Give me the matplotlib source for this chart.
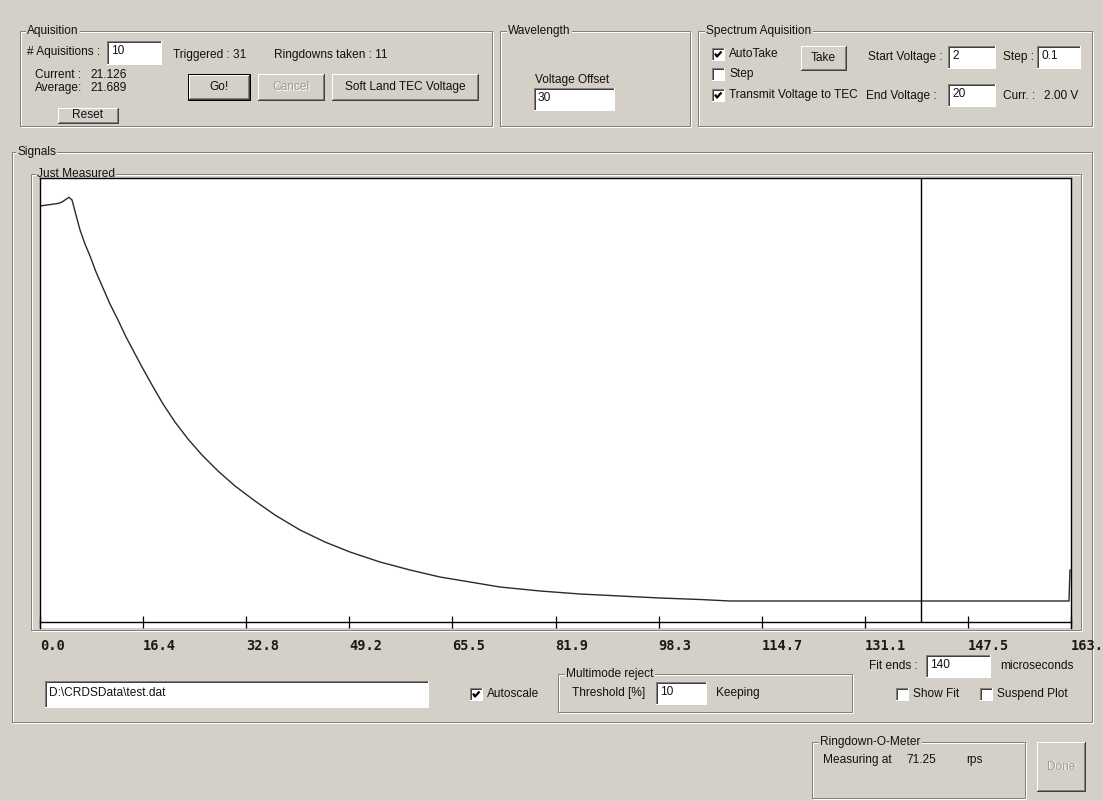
import matplotlib
matplotlib.use("Agg")
import matplotlib.pyplot as plt
from matplotlib.patches import Rectangle

W, H = 1103, 801

# Ringdown trace on the "Just Measured" display: time [µs] and detector signal [a.u.]
time_us = [0.00, 1.11, 2.22, 2.86, 3.50, 3.97, 4.61, 5.09, 5.72, 6.36, 7.15,
           7.95, 8.90, 10.01, 11.12, 12.40, 13.67, 14.94, 16.21, 17.80, 19.55,
           21.45, 23.52, 25.74, 28.29, 30.99, 34.17, 37.34, 41.32, 45.29, 49.26,
           54.03, 58.80, 63.56, 68.33, 73.10, 79.46, 85.81, 92.17, 98.52, 104.88,
           109.65, 163.52, 163.68]
signal = [416.0, 417.0, 418.0, 418.5, 420.0, 422.0, 424.7, 422.0, 407.0, 392.0, 378.0,
          366.0, 350.0, 334.0, 318.0, 302.0, 285.0, 270.0, 255.0, 237.0, 218.0,
          200.0, 183.0, 167.0, 151.0, 136.0, 121.0, 107.0, 92.0, 80.0, 70.0,
          60.0, 52.0, 45.0, 40.0, 35.0, 31.0, 28.0, 26.0, 24.0, 22.5,
          21.0, 21.0, 52.0]

# Time axis: 4096 samples over 163.84 µs, labelled every tenth
tick_values = [0.0, 16.384, 32.768, 49.152, 65.536, 81.92, 98.304,
               114.688, 131.072, 147.456, 163.84]
tick_labels = [f"{v:.1f}" for v in tick_values]
t_max = 163.84
signal_range = (-6.0, 444.0)

# Acquisition / instrument state shown in the panel
n_acquisitions = 10
triggered = 31
ringdowns_taken = 11
current_value = "21.126"
average_value = "21.689"
voltage_offset = 30
start_voltage = 2
end_voltage = 20
voltage_step = 0.1
curr_voltage = 2.00
data_file = r"D:\CRDSData\test.dat"
threshold_pct = 10
fit_end_us = 140
ringdown_rate = 71.25

BG = "#D4D0C8"
SHADOW = "#808080"
DARK = "#404040"
WHITE = "#FFFFFF"
PX = 0.72  # one pixel in points at 100 dpi

plt.rcParams["font.family"] = ["Liberation Sans", "DejaVu Sans"]
plt.rcParams["font.size"] = 8.6

fig = plt.figure(figsize=(W / 100, H / 100), dpi=100, facecolor=BG)
ui = fig.add_axes([0, 0, 1, 1])
ui.set_xlim(0, W)
ui.set_ylim(H, 0)
ui.axis("off")
ui.set_facecolor(BG)


def seg(x0, y0, x1, y1, color, lw=1.0):
    ui.plot([x0, x1], [y0, y1], color=color, lw=lw * PX,
            solid_capstyle="butt", antialiased=False, zorder=3)


def label(x, y, s, color="#111111", ha="left", **kw):
    ui.text(x, y, s, ha=ha, va="center", color=color, zorder=5, **kw)


def group(x0, y0, x1, y1, title, tx):
    ui.add_patch(Rectangle((x0 + 1, y0 + 1), x1 - x0, y1 - y0, fill=False,
                           ec=WHITE, lw=PX, zorder=2))
    ui.add_patch(Rectangle((x0, y0), x1 - x0, y1 - y0, fill=False,
                           ec=SHADOW, lw=PX, zorder=2))
    ui.text(tx, y0, title, ha="left", va="center", zorder=4, color="#111111",
            bbox=dict(fc=BG, ec="none", pad=1.0))


def edit(x0, y0, x1, y1, s):
    ui.add_patch(Rectangle((x0, y0), x1 - x0, y1 - y0, fc=WHITE, ec="none", zorder=3))
    seg(x0, y0, x1, y0, SHADOW)
    seg(x0, y0, x0, y1, SHADOW)
    seg(x0 + 1, y0 + 1, x1 - 1, y0 + 1, DARK)
    seg(x0 + 1, y0 + 1, x0 + 1, y1 - 1, DARK)
    seg(x0, y1, x1, y1, WHITE)
    seg(x1, y0, x1, y1, WHITE)
    label(x0 + 4, (y0 + y1) / 2 - 1, s)


def button(x0, y0, x1, y1, s, default=False, disabled=False):
    ui.add_patch(Rectangle((x0, y0), x1 - x0, y1 - y0, fc=BG, ec="none", zorder=3))
    if default:
        ui.add_patch(Rectangle((x0, y0), x1 - x0, y1 - y0, fill=False,
                               ec="black", lw=PX, zorder=4))
        x0, y0, x1, y1 = x0 + 1, y0 + 1, x1 - 1, y1 - 1
    seg(x0, y0, x1, y0, WHITE)
    seg(x0, y0, x0, y1, WHITE)
    seg(x0, y1, x1, y1, DARK)
    seg(x1, y0, x1, y1, DARK)
    seg(x0 + 1, y1 - 1, x1 - 1, y1 - 1, SHADOW)
    seg(x1 - 1, y0 + 1, x1 - 1, y1 - 1, SHADOW)
    cx, cy = (x0 + x1) / 2, (y0 + y1) / 2
    if disabled:
        label(cx + 1, cy + 1, s, color=WHITE, ha="center")
        label(cx, cy, s, color="#A09C94", ha="center")
    else:
        label(cx, cy, s, ha="center")


def checkbox(x0, yc, checked, s):
    y0 = yc - 6
    ui.add_patch(Rectangle((x0, y0), 12, 12, fc=WHITE, ec="none", zorder=3))
    seg(x0, y0, x0 + 12, y0, SHADOW)
    seg(x0, y0, x0, y0 + 12, SHADOW)
    seg(x0 + 1, y0 + 1, x0 + 11, y0 + 1, DARK)
    seg(x0 + 1, y0 + 1, x0 + 1, y0 + 11, DARK)
    seg(x0, y0 + 12, x0 + 12, y0 + 12, WHITE)
    seg(x0 + 12, y0, x0 + 12, y0 + 12, WHITE)
    if checked:
        ui.plot([x0 + 3, x0 + 5, x0 + 9.5], [y0 + 5.5, y0 + 8.5, y0 + 3.5],
                color="black", lw=1.6, zorder=5, solid_capstyle="butt")
    label(x0 + 17, yc, s)


# --- Aquisition group ---
group(20, 31, 492, 126, "Aquisition", 27)
label(27, 52, "# Aquisitions :")
edit(107, 41, 161, 64, str(n_acquisitions))
label(173, 55, f"Triggered : {triggered}")
label(274, 55, f"Ringdowns taken : {ringdowns_taken}")
label(35, 75, "Current :")
label(90, 75, current_value)
label(35, 88, "Average:")
label(90, 88, average_value)
button(58, 108, 118, 123, "Reset")
button(188, 74, 250, 100, "Go!", default=True)
button(258, 74, 324, 100, "Cancel", disabled=True)
button(332, 74, 478, 100, "Soft Land TEC Voltage")

# --- Wavelength group ---
group(500, 31, 690, 126, "Wavelength", 508)
label(572, 80, "Voltage Offset", ha="center")
edit(534, 88, 614, 110, str(voltage_offset))

# --- Spectrum Aquisition group ---
group(698, 31, 1092, 126, "Spectrum Aquisition", 706)
checkbox(712, 54, True, "AutoTake")
checkbox(712, 74, False, "Step")
checkbox(712, 95, True, "Transmit Voltage to TEC")
button(801, 46, 846, 70, "Take")
label(868, 57, "Start Voltage :")
edit(948, 46, 995, 68, str(start_voltage))
label(1003, 57, "Step :")
edit(1037, 46, 1080, 68, f"{voltage_step:g}")
label(866, 96, "End Voltage :")
edit(948, 84, 995, 106, str(end_voltage))
label(1003, 96, "Curr. :")
label(1044, 96, f"{curr_voltage:.2f} V")

# --- Signals group ---
group(12, 152, 1092, 722, "Signals", 17)
group(31, 174, 1081, 630, "Just Measured", 37)
ui.add_patch(Rectangle((40, 178), 1031, 450, fc=WHITE, ec="none", zorder=3))

edit(45, 681, 428, 707, data_file)
checkbox(470, 694, True, "Autoscale")
group(558, 674, 852, 712, "Multimode reject", 566)
label(572, 693, "Threshold [%]")
edit(656, 682, 706, 704, str(threshold_pct))
label(716, 693, "Keeping")
label(869, 666, "Fit ends :")
edit(926, 655, 990, 677, str(fit_end_us))
label(1000, 666, "microseconds")
checkbox(896, 694, False, "Show Fit")
checkbox(980, 694, False, "Suspend Plot")

# --- Ringdown-O-Meter ---
group(812, 742, 1025, 798, "Ringdown-O-Meter", 820)
label(823, 760, "Measuring at")
label(906, 760, f"{ringdown_rate:.2f}")
label(966, 760, "rps")
button(1037, 742, 1085, 791, "Done", disabled=True)

# --- Ringdown plot ---
ax = fig.add_axes([40 / W, 1 - 628 / H, 1031 / W, 450 / H])
ax.set_facecolor(WHITE)
ax.plot(time_us, signal, color="#2a2a2a", lw=1.0)
ax.vlines(fit_end_us, 0, signal_range[1], color="black", lw=1.0)
ax.set_xlim(0, t_max)
ax.set_ylim(*signal_range)
ax.set_yticks([])
for side in ("top", "left", "right", "bottom"):
    ax.spines[side].set_color("black")
    ax.spines[side].set_linewidth(1.0)
ax.spines["bottom"].set_position(("data", 0))
ax.set_xticks(tick_values)
ax.set_xticklabels(tick_labels)
ax.tick_params(axis="x", direction="inout", length=8, width=0.9, pad=8,
               colors="black", labelcolor="#1a1a1a")
for t in ax.get_xticklabels():
    t.set_ha("left")
    t.set_fontfamily("DejaVu Sans Mono")
    t.set_fontweight("bold")
    t.set_fontsize(9.8)

fig.savefig("out.png", dpi=100, facecolor=BG)
